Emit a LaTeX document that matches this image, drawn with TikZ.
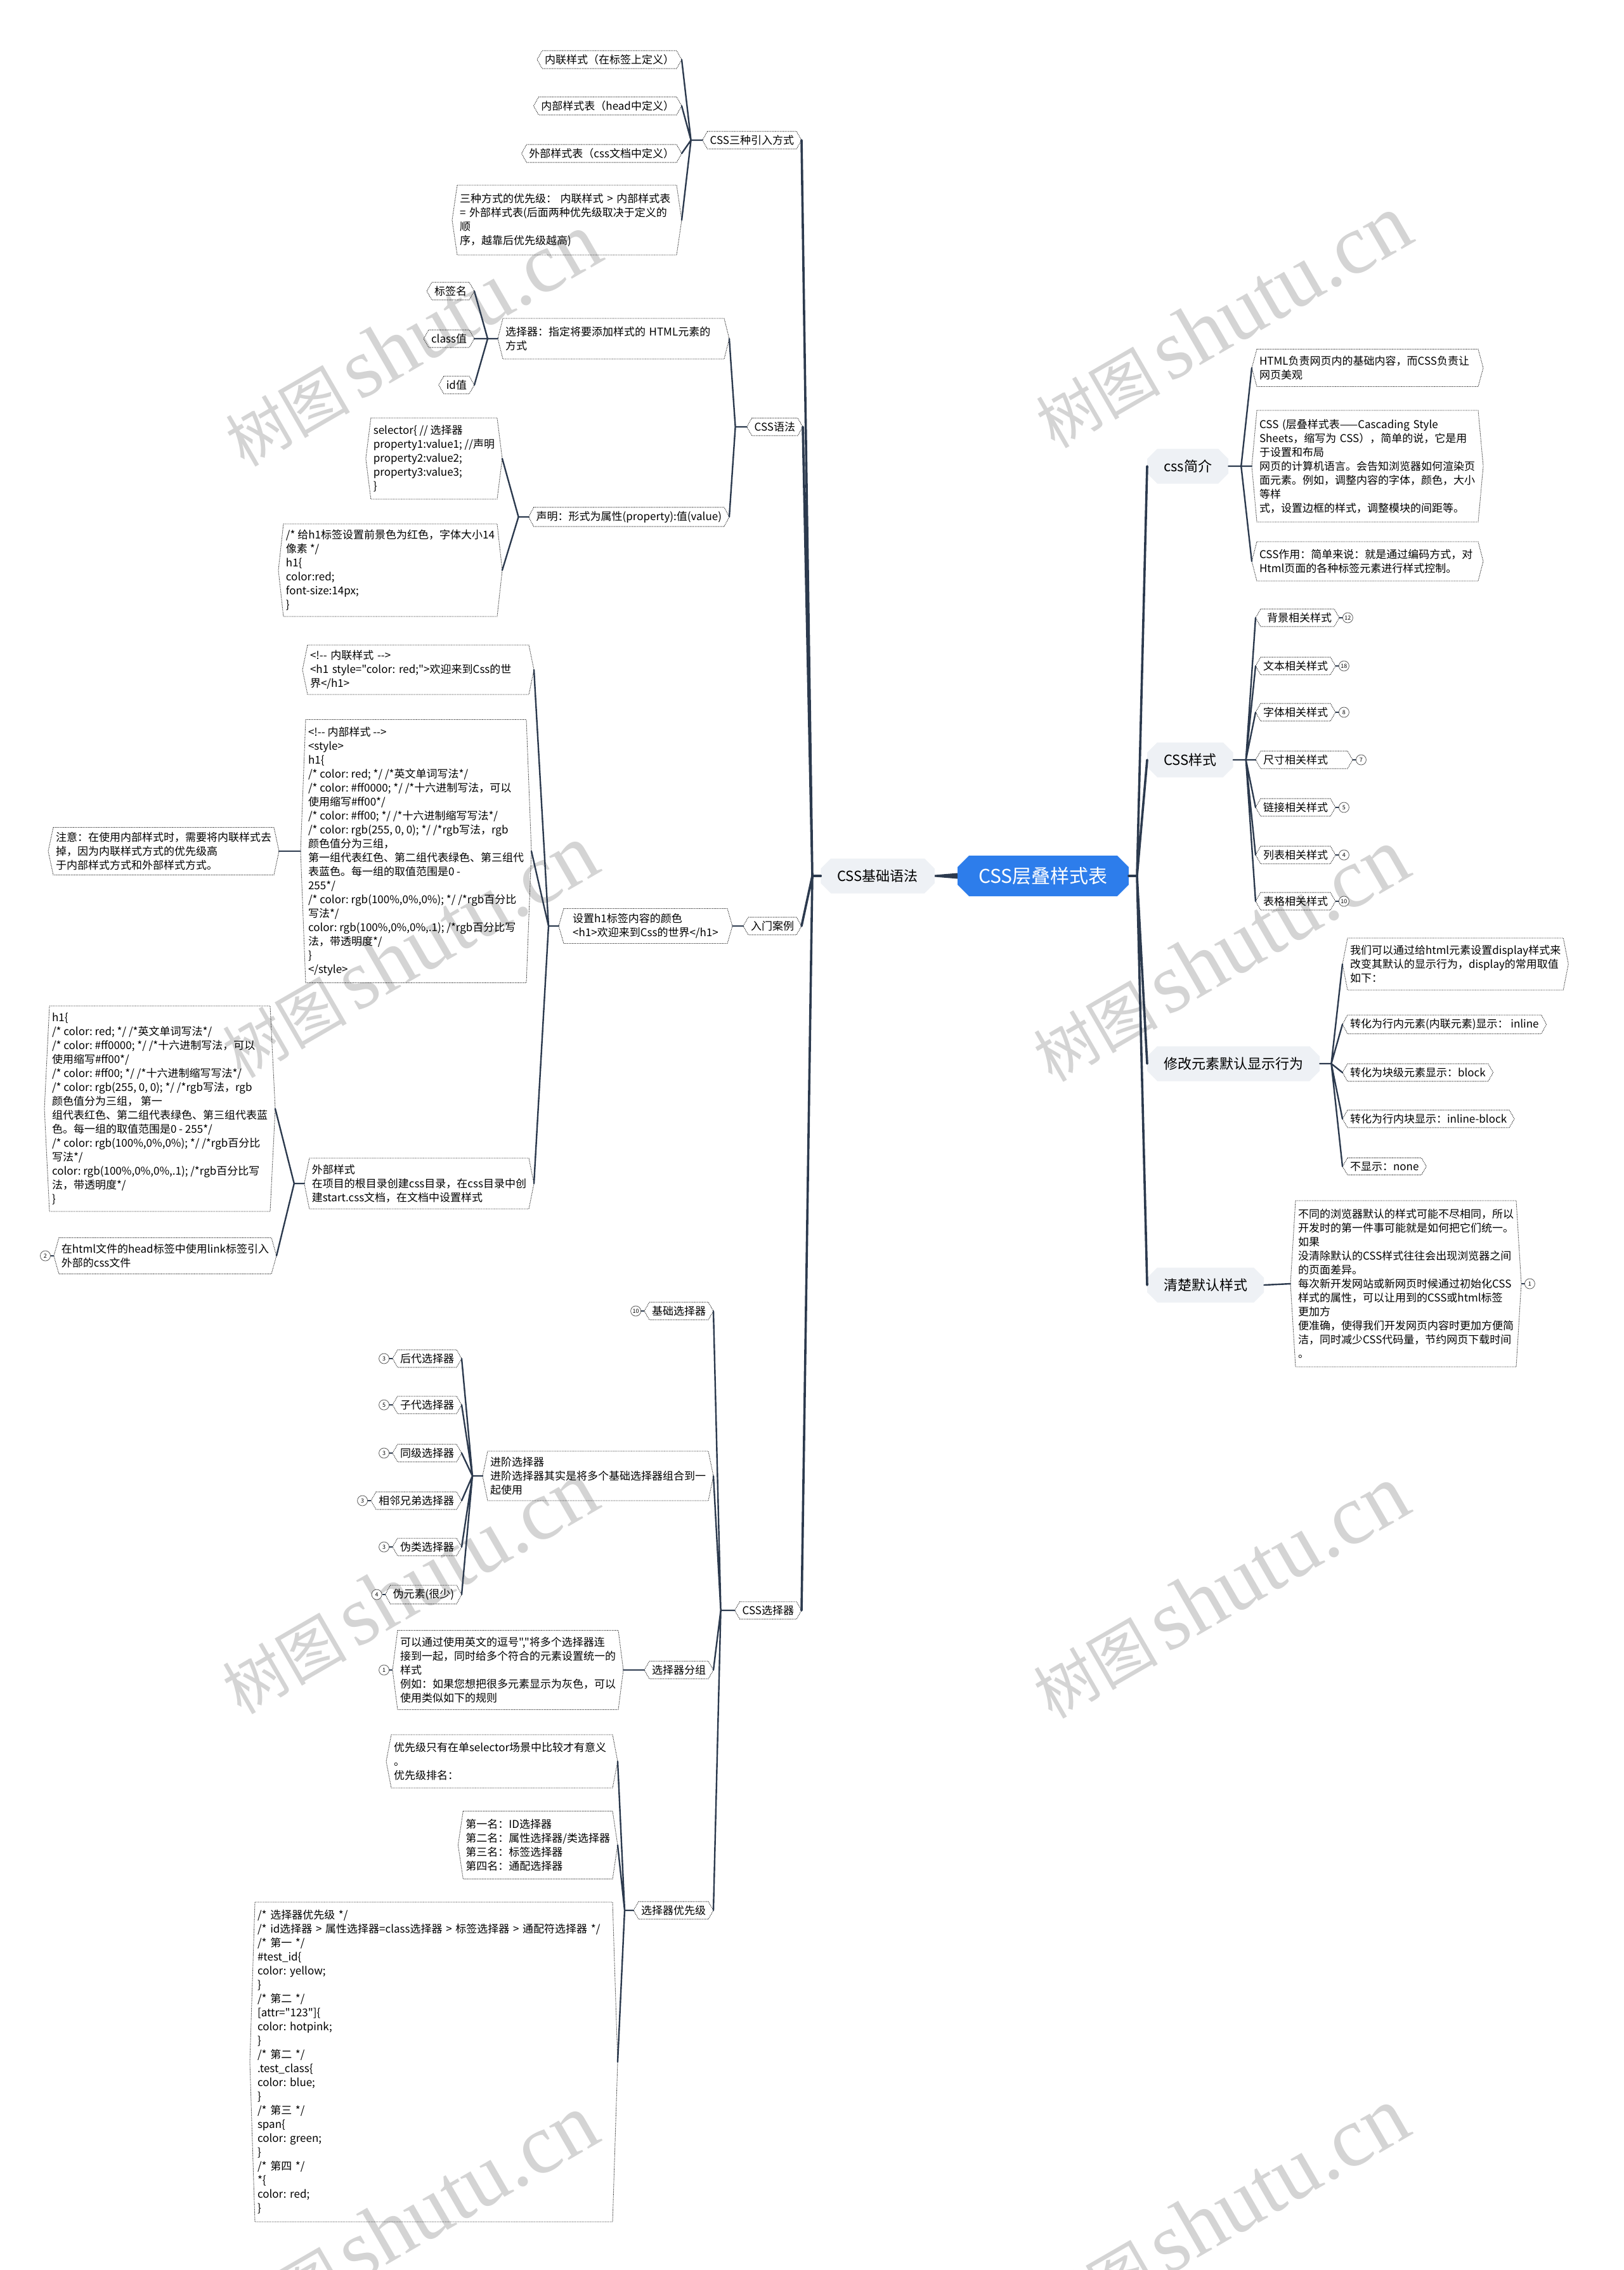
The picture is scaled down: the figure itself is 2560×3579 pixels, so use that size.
\documentclass[tikz,border=0pt]{standalone}
\usepackage{fontspec}
\setmainfont{Noto Sans CJK SC}[Ligatures=TeXOff]
\newfontfamily\wmserif{Liberation Serif}
\usetikzlibrary{shapes.misc,positioning,calc}
\definecolor{lnc}{RGB}{44,58,78}
\definecolor{gfill}{RGB}{238,241,245}
\definecolor{cblue}{RGB}{45,125,235}
\frenchspacing
\tikzset{
  base/.style={font=\fontsize{17}{22}\selectfont\frenchspacing, text=black},
  hx/.style={base, align=left, inner xsep=4pt, inner ysep=6pt, outer xsep=8pt, outer ysep=0pt},
  hexline/.style={draw=black!85, line width=0.9pt, dash pattern=on 1.3pt off 1.3pt},
  gbox/.style={chamfered rectangle, chamfered rectangle xsep=8pt, chamfered rectangle ysep=8pt, fill=gfill, text=black, font=\fontsize{22}{26}\selectfont, inner xsep=18pt, inner ysep=8pt, minimum height=55pt},
  cbox/.style={chamfered rectangle, chamfered rectangle xsep=9pt, chamfered rectangle ysep=9pt, fill=cblue, text=white, font=\fontsize{30}{34}\selectfont, inner xsep=24pt, minimum height=64pt, minimum width=265pt},
  ln/.style={draw=lnc, line width=2.4pt, line cap=round, line join=round},
  ln1/.style={draw=lnc, line width=3.6pt, line cap=round, line join=round},
  badge/.style={circle, draw=black!65, line width=0.8pt, fill=white, inner sep=0pt, minimum size=16pt, font=\fontsize{9}{9}\selectfont},
  bl/.style={draw=lnc, line width=1.3pt},
  wm/.style={text=black!17, font=\fontsize{98}{100}\selectfont},
}
\newcommand\hexify[1]{\draw[hexline] ([xshift=8pt]#1.north west) -- ([xshift=-8pt]#1.north east) -- (#1.east) -- ([xshift=-8pt]#1.south east) -- ([xshift=8pt]#1.south west) -- (#1.west) -- cycle;}
\begin{document}
\begin{tikzpicture}[x=1pt,y=-1pt]
\useasboundingbox (0,0) rectangle (2560,3579);
\fill[white] (0,0) rectangle (2560,3579);
\clip (0,0) rectangle (2560,3579);
% watermarks
\foreach \wx/\wy [count=\i] in {650/536,1928/507,645/1500,1924/1506,645/2503,1924/2510,645/3502,1924/3491}
  \node[wm, rotate=30] (wm\i) at (\wx,\wy) {树图\hspace{14pt}{\wmserif\fontsize{134}{136}\selectfont shutu.cn}};

% ===== centre =====
\node[cbox] (root) at (1645,1381) {CSS层叠样式表};
\node[gbox, anchor=east] (basic) at (1474,1381) {CSS基础语法};
\coordinate (jL) at (1281,1381);
\coordinate (jR) at (1793,1381);
\fill[lnc] ([yshift=4.5pt]root.west) -- ([yshift=1.5pt]basic.east) -- ([yshift=-1.5pt]basic.east) -- ([yshift=-4.5pt]root.west) -- cycle;
\draw[ln1] (basic.west) -- (jL);
\draw[ln1] (root.east) -- (jR);

% ===== left level 2 =====
\node[hx, anchor=east] (A) at (1264,221) {CSS三种引入方式}; \hexify{A}
\node[hx, anchor=east] (B) at (1266,673) {CSS语法}; \hexify{B}
\node[hx, anchor=east] (C) at (1264,1460) {入门案例}; \hexify{C}
\node[hx, anchor=east] (D) at (1264,2539) {CSS选择器}; \hexify{D}
\draw[ln1] (jL) -- (A.east) (jL) -- (B.east) (jL) -- (C.east) (jL) -- (D.east);

% ===== CSS三种引入方式 =====
\node[hx, anchor=east] (a1) at (1075,94) {内联样式（在标签上定义）}; \hexify{a1}
\node[hx, anchor=east] (a2) at (1075,167) {内部样式表（head中定义）}; \hexify{a2}
\node[hx, anchor=east] (a3) at (1075,242) {外部样式表（css文档中定义）}; \hexify{a3}
\node[hx, anchor=east, minimum height=110pt, text width=338pt] (a4) at (1075,347) {三种方式的优先级：\ 内联样式 > 内部样式表\\= 外部样式表(后面两种优先级取决于定义的\\顺\\序，越靠后优先级越高)}; \hexify{a4}
\coordinate (jA) at ([xshift=-18pt]A.west);
\draw[ln] (A.west) -- (jA) (jA) -- (a1.east) (jA) -- (a2.east) (jA) -- (a3.east) (jA) -- (a4.east);

% ===== CSS语法 =====
\node[hx, anchor=east, minimum height=64pt, text width=341pt] (B1) at (1150,534) {选择器：指定将要添加样式的 HTML元素的\\方式}; \hexify{B1}
\node[hx, anchor=east] (B2) at (1150,815) {声明：形式为属性(property):值(value)}; \hexify{B2}
\coordinate (jB) at ([xshift=-18pt]B.west);
\draw[ln] (B.west) -- (jB) (jB) -- (B1.east) (jB) -- (B2.east);
\node[hx, anchor=east] (s1) at (748,459) {标签名}; \hexify{s1}
\node[hx, anchor=east] (s2) at (748,534) {class值}; \hexify{s2}
\node[hx, anchor=east] (s3) at (748,607) {id值}; \hexify{s3}
\coordinate (jB1) at ([xshift=-16pt]B1.west);
\draw[ln] (B1.west) -- (jB1) (jB1) -- (s1.east) (jB1) -- (s2.east) (jB1) -- (s3.east);
\node[hx, anchor=east, minimum height=128pt] (d1) at (792,723) {selector\{ // 选择器\\property1:value1; //声明\\property2:value2;\\property3:value3;\\\}}; \hexify{d1}
\node[hx, anchor=east, minimum height=146pt] (d2) at (792,899) {/* 给h1标签设置前景色为红色，字体大小14\\像素 */\\h1\{\\color:red;\\font-size:14px;\\\}}; \hexify{d2}
\coordinate (jB2) at ([xshift=-16pt]B2.west);
\draw[ln] (B2.west) -- (jB2) (jB2) -- (d1.east) (jB2) -- (d2.east);

% ===== 入门案例 =====
\node[hx, anchor=east, minimum height=55pt, minimum width=258pt] (C1) at (1155,1460) {设置h1标签内容的颜色\\<h1>欢迎来到Css的世界</h1>}; \hexify{C1}
\draw[ln] (C.west) -- (C1.east);
\node[hx, anchor=east, minimum height=78pt, text width=341pt] (e1) at (842,1056) {<!-{}- 内联样式 -{}->\\<h1 style="color: red;">欢迎来到Css的世\\界</h1>}; \hexify{e1}
\node[hx, anchor=east, minimum height=415pt] (e2) at (838,1342) {<!-{}- 内部样式 -{}->\\<style>\\h1\{\\/* color: red; */ /*英文单词写法*/\\/* color: \#ff0000; */ /*十六进制写法，可以\\使用缩写\#ff00*/\\/* color: \#ff00; */ /*十六进制缩写写法*/\\/* color: rgb(255, 0, 0); */ /*rgb写法，rgb\\颜色值分为三组，\\第一组代表红色、第二组代表绿色、第三组代\\表蓝色。每一组的取值范围是0 -\\255*/\\/* color: rgb(100\%,0\%,0\%); */ /*rgb百分比\\写法*/\\color: rgb(100\%,0\%,0\%,.1); /*rgb百分比写\\法，带透明度*/\\\}\\</style>}; \hexify{e2}
\node[hx, anchor=east, minimum height=80pt] (e3) at (842,1866) {外部样式\\在项目的根目录创建css目录，在css目录中创\\建start.css文档，在文档中设置样式}; \hexify{e3}
\coordinate (jC1) at ([xshift=-16pt]C1.west);
\draw[ln] (C1.west) -- (jC1) (jC1) -- (e1.east) (jC1) -- (e2.east) (jC1) -- (e3.east);
\node[hx, anchor=east, minimum height=75pt] (note) at (440,1342) {注意：在使用内部样式时，需要将内联样式去\\掉，因为内联样式方式的优先级高\\于内部样式方式和外部样式方式。}; \hexify{note}
\draw[ln] (e2.west) -- (note.east);
\node[hx, anchor=east, minimum height=324pt] (f1) at (434,1748) {h1\{\\/* color: red; */ /*英文单词写法*/\\/* color: \#ff0000; */ /*十六进制写法，可以\\使用缩写\#ff00*/\\/* color: \#ff00; */ /*十六进制缩写写法*/\\/* color: rgb(255, 0, 0); */ /*rgb写法，rgb\\颜色值分为三组，\ 第一\\组代表红色、第二组代表绿色、第三组代表蓝\\色。每一组的取值范围是0 - 255*/\\/* color: rgb(100\%,0\%,0\%); */ /*rgb百分比\\写法*/\\color: rgb(100\%,0\%,0\%,.1); /*rgb百分比写\\法，带透明度*/\\\}}; \hexify{f1}
\node[hx, anchor=east, minimum height=57pt] (f2) at (436,1980) {在html文件的head标签中使用link标签引入\\外部的css文件}; \hexify{f2}
\coordinate (jE3) at ([xshift=-16pt]e3.west);
\draw[ln] (e3.west) -- (jE3) (jE3) -- (f1.east) (jE3) -- (f2.east);
\node[badge, left=5pt of f2.west] (bf2) {2};
\draw[bl] (bf2.east) -- (f2.west);

% ===== CSS选择器 =====
\node[hx, anchor=east] (g1) at (1125,2067) {基础选择器}; \hexify{g1}
\node[hx, anchor=east, minimum height=78pt] (g2) at (1125,2327) {进阶选择器\\进阶选择器其实是将多个基础选择器组合到一\\起使用}; \hexify{g2}
\node[hx, anchor=east] (g3) at (1125,2633) {选择器分组}; \hexify{g3}
\node[hx, anchor=east] (g4) at (1125,3012) {选择器优先级}; \hexify{g4}
\coordinate (jD) at ([xshift=-22pt]D.west);
\draw[ln] (D.west) -- (jD) (jD) -- (g1.east) (jD) -- (g2.east) (jD) -- (g3.east) (jD) -- (g4.east);
\node[badge, left=5pt of g1.west] (bg1) {10};
\draw[bl] (bg1.east) -- (g1.west);

\node[hx, anchor=east] (h1) at (728,2142) {后代选择器}; \hexify{h1}
\node[hx, anchor=east] (h2) at (728,2215) {子代选择器}; \hexify{h2}
\node[hx, anchor=east] (h3) at (728,2291) {同级选择器}; \hexify{h3}
\node[hx, anchor=east] (h4) at (728,2366) {相邻兄弟选择器}; \hexify{h4}
\node[hx, anchor=east] (h5) at (728,2439) {伪类选择器}; \hexify{h5}
\node[hx, anchor=east] (h6) at (728,2514) {伪元素(很少)}; \hexify{h6}
\coordinate (jG2) at ([xshift=-16pt]g2.west);
\draw[ln] (g2.west) -- (jG2) (jG2) -- (h1.east) (jG2) -- (h2.east) (jG2) -- (h3.east) (jG2) -- (h4.east) (jG2) -- (h5.east) (jG2) -- (h6.east);
\foreach \n/\v in {h1/3,h2/5,h3/3,h4/3,h5/3,h6/4}{
  \node[badge, left=5pt of \n.west] (b\n) {\v};
  \draw[bl] (b\n.east) -- (\n.west);
}

\node[hx, anchor=east, minimum height=125pt] (grp) at (983,2633) {可以通过使用英文的逗号","将多个选择器连\\接到一起，同时给多个符合的元素设置统一的\\样式\\例如：如果您想把很多元素显示为灰色，可以\\使用类似如下的规则}; \hexify{grp}
\draw[ln] (g3.west) -- (grp.east);
\node[badge, left=5pt of grp.west] (bgrp) {1};
\draw[bl] (bgrp.east) -- (grp.west);

\node[hx, anchor=east, minimum height=84pt, text width=341pt] (p1) at (974,2777) {优先级只有在单selector场景中比较才有意义\\。\\优先级排名：}; \hexify{p1}
\node[hx, anchor=east, minimum height=107pt] (p2) at (974,2909) {第一名：ID选择器\\第二名：属性选择器/类选择器\\第三名：标签选择器\\第四名：通配选择器}; \hexify{p2}
\node[hx, anchor=east, minimum height=504pt, text width=556pt] (p3) at (974,3251) {/* 选择器优先级 */\\/* id选择器 > 属性选择器=class选择器 > 标签选择器 > 通配符选择器 */\\/* 第一 */\\\#test\_id\{\\color: yellow;\\\}\\/* 第二 */\\{}[attr="123"]\{\\color: hotpink;\\\}\\/* 第二 */\\.test\_class\{\\color: blue;\\\}\\/* 第三 */\\span\{\\color: green;\\\}\\/* 第四 */\\{}*\{\\color: red;\\\}}; \hexify{p3}
\coordinate (jG4) at ([xshift=-14pt]g4.west);
\draw[ln] (g4.west) -- (jG4) (jG4) -- (p1.east) (jG4) -- (p2.east) (jG4) -- (p3.east);

% ===== right level 2 =====
\node[gbox, anchor=west] (R1) at (1809,735) {css简介};
\node[gbox, anchor=west] (R2) at (1809,1198) {CSS样式};
\node[gbox, anchor=west] (R3) at (1809,1677) {修改元素默认显示行为};
\node[gbox, anchor=west] (R4) at (1809,2026) {清楚默认样式};
\draw[ln1] (jR) -- (R1.west) (jR) -- (R2.west) (jR) -- (R3.west) (jR) -- (R4.west);

% css简介
\node[hx, anchor=west, minimum height=59pt, text width=341pt] (c1) at (1974,580) {HTML负责网页内的基础内容，而CSS负责让\\网页美观}; \hexify{c1}
\node[hx, anchor=west, minimum height=176pt, text width=341pt] (c2) at (1974,735) {CSS (层叠样式表——Cascading Style\\Sheets，缩写为 CSS），简单的说，它是用\\于设置和布局\\网页的计算机语言。会告知浏览器如何渲染页\\面元素。例如，调整内容的字体，颜色，大小\\等样\\式，设置边框的样式，调整模块的间距等。}; \hexify{c2}
\node[hx, anchor=west, minimum height=62pt, text width=341pt] (c3) at (1974,885) {CSS作用：简单来说：就是通过编码方式，对\\Html页面的各种标签元素进行样式控制。}; \hexify{c3}
\coordinate (jR1) at ([xshift=20pt]R1.east);
\draw[ln] (R1.east) -- (jR1) (jR1) -- (c1.west) (jR1) -- (c2.west) (jR1) -- (c3.west);

% CSS样式
\node[hx, anchor=west, text width=108pt, align=right] (t1) at (1980,974) {背景相关样式}; \hexify{t1}
\node[hx, anchor=west] (t2) at (1980,1050) {文本相关样式}; \hexify{t2}
\node[hx, anchor=west] (t3) at (1980,1123) {字体相关样式}; \hexify{t3}
\node[hx, anchor=west, text width=129pt] (t4) at (1980,1198) {尺寸相关样式}; \hexify{t4}
\node[hx, anchor=west] (t5) at (1980,1273) {链接相关样式}; \hexify{t5}
\node[hx, anchor=west] (t6) at (1980,1348) {列表相关样式}; \hexify{t6}
\node[hx, anchor=west] (t7) at (1980,1421) {表格相关样式}; \hexify{t7}
\coordinate (jR2) at ([xshift=20pt]R2.east);
\draw[ln] (R2.east) -- (jR2) (jR2) -- (t1.west) (jR2) -- (t2.west) (jR2) -- (t3.west) (jR2) -- (t4.west) (jR2) -- (t5.west) (jR2) -- (t6.west) (jR2) -- (t7.west);
\foreach \n/\v in {t1/12,t2/18,t3/8,t4/7,t5/5,t6/4,t7/10}{
  \node[badge, right=5pt of \n.east] (b\n) {\v};
  \draw[bl] (\n.east) -- (b\n.west);
}

% 修改元素默认显示行为
\node[hx, anchor=west, minimum height=82pt] (m1) at (2117,1520) {我们可以通过给html元素设置display样式来\\改变其默认的显示行为，display的常用取值\\如下：}; \hexify{m1}
\node[hx, anchor=west] (m2) at (2117,1615) {转化为行内元素(内联元素)显示：\ inline}; \hexify{m2}
\node[hx, anchor=west] (m3) at (2117,1691) {转化为块级元素显示：block}; \hexify{m3}
\node[hx, anchor=west] (m4) at (2117,1764) {转化为行内块显示：inline-block}; \hexify{m4}
\node[hx, anchor=west] (m5) at (2117,1839) {不显示：none}; \hexify{m5}
\coordinate (jR3) at ([xshift=18pt]R3.east);
\draw[ln] (R3.east) -- (jR3) (jR3) -- (m1.west) (jR3) -- (m2.west) (jR3) -- (m3.west) (jR3) -- (m4.west) (jR3) -- (m5.west);

% 清楚默认样式
\node[hx, anchor=west, minimum height=262pt] (k1) at (2035,2024) {不同的浏览器默认的样式可能不尽相同，所以\\开发时的第一件事可能就是如何把它们统一。\\如果\\没清除默认的CSS样式往往会出现浏览器之间\\的页面差异。\\每次新开发网站或新网页时候通过初始化CSS\\样式的属性，可以让用到的CSS或html标签\\更加方\\便准确，使得我们开发网页内容时更加方便简\\洁，同时减少CSS代码量，节约网页下载时间\\。}; \hexify{k1}
\draw[ln] (R4.east) -- (k1.west);
\node[badge, right=5pt of k1.east] (bk1) {1};
\draw[bl] (k1.east) -- (bk1.west);
\end{tikzpicture}
\end{document}
